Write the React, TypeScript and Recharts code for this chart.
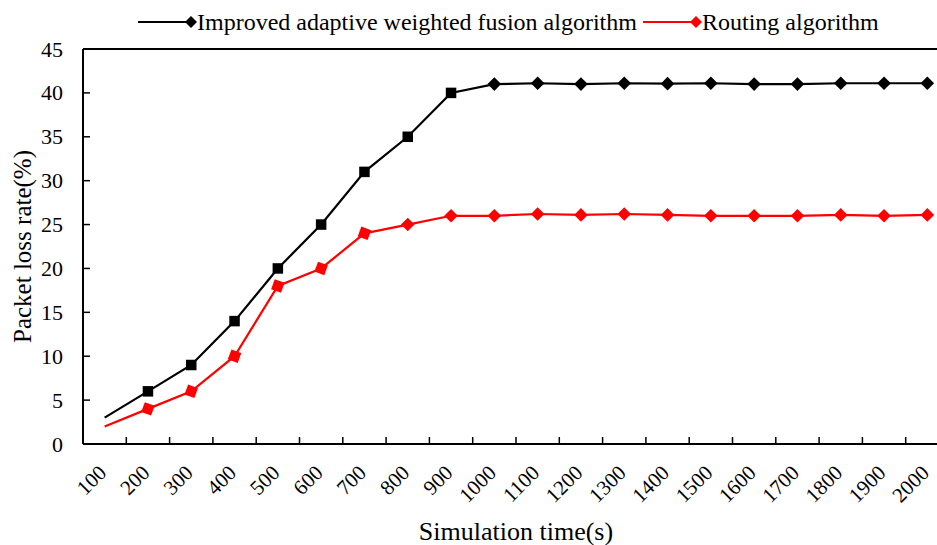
import React from 'react';
import { LineChart, Line, XAxis, YAxis, ReferenceLine } from 'recharts';

const times = ['100', '200', '300', '400', '500', '600', '700', '800', '900', '1000',
  '1100', '1200', '1300', '1400', '1500', '1600', '1700', '1800', '1900', '2000'];
const improved = [3, 6, 9, 14, 20, 25, 31, 35, 40, 41, 41.1, 41, 41.1, 41.05, 41.1, 41, 41, 41.1, 41.1, 41.1];
const routing = [2, 4, 6, 10, 18, 20, 24, 25, 26, 26, 26.2, 26.1, 26.2, 26.1, 26, 26, 26, 26.1, 26, 26.1];
const yTicks = [0, 5, 10, 15, 20, 25, 30, 35, 40, 45];

const data = times.map((t, i) => ({ t, improved: improved[i], routing: routing[i] }));

const FONT = "'Liberation Serif', 'Times New Roman', serif";
const CHART_W = 960;
const CHART_H = 545;
const MARGIN = { top: 49, right: 11, left: 0, bottom: 0 };
const Y_AXIS_W = 83;
const X_AXIS_H = 101;
const BAND = (CHART_W - MARGIN.left - MARGIN.right - Y_AXIS_W) / times.length;
const X_MARGIN = 30;
const Y_MARGIN = 20;

const YTick = (props: any) => {
  const { x, y, payload } = props;
  return (
    <g>
      <line x1={x + Y_MARGIN} x2={x + Y_MARGIN + 7} y1={y} y2={y} stroke="#000" strokeWidth={1.5} />
      <text x={x} y={y} dy={7.5} textAnchor="end" fontSize={22} fontFamily={FONT} fill="#000">
        {payload.value}
      </text>
    </g>
  );
};

const XTick = (props: any) => {
  const { x, y, payload, index } = props;
  const axisY = y - X_MARGIN;
  const tx = x + 3;
  return (
    <g>
      <line x1={x - BAND / 2} x2={x - BAND / 2} y1={axisY} y2={axisY - 7} stroke="#000" strokeWidth={1.5} />
      {index === times.length - 1 && (
        <line x1={x + BAND / 2} x2={x + BAND / 2} y1={axisY} y2={axisY - 7} stroke="#000" strokeWidth={1.5} />
      )}
      <text x={tx} y={y} textAnchor="end" fontSize={21} fontFamily={FONT} fill="#000"
        transform={`rotate(-45 ${tx} ${y})`}>
        {payload.value}
      </text>
    </g>
  );
};

// first point has no marker, then squares, then diamonds
const makeDot = (color: string, squareUntil: number, tilt: number) => (props: any) => {
  const { cx, cy, index } = props;
  if (index === 0 || cx == null || cy == null) return <g key={`dot-${color}-${index}`} />;
  if (index <= squareUntil) {
    const s = 10.5;
    return (
      <rect key={`dot-${color}-${index}`} x={cx - s / 2} y={cy - s / 2} width={s} height={s} fill={color}
        transform={`rotate(${tilt} ${cx} ${cy})`} />
    );
  }
  const r = 6.8;
  return (
    <polygon key={`dot-${color}-${index}`} fill={color}
      points={`${cx},${cy - r} ${cx + r},${cy} ${cx},${cy + r} ${cx - r},${cy}`} />
  );
};

const LegendIcon = ({ color }: { color: string }) => (
  <svg width={60} height={16} style={{ display: 'block' }}>
    <line x1={0} x2={50} y1={8} y2={8} stroke={color} strokeWidth={2} />
    <polygon fill={color} points="53,2 59,8 53,14 47,8" />
  </svg>
);

const LegendItem = ({ color, label, left }: { color: string; label: string; left: number }) => (
  <div style={{ position: 'absolute', left, top: 7, display: 'flex', alignItems: 'center', height: 30 }}>
    <LegendIcon color={color} />
    <span style={{ fontFamily: FONT, fontSize: 24, color: '#000', marginLeft: -1, whiteSpace: 'nowrap' }}>{label}</span>
  </div>
);

const App = () => {
  return (
    <div style={{ position: 'fixed', left: 0, top: 0, width: 937, height: 545, overflow: 'hidden', background: '#fff' }}>
      <LineChart width={CHART_W} height={CHART_H} data={data} margin={MARGIN}>
        <XAxis dataKey="t" type="category" interval={0} height={X_AXIS_H} tickSize={0} tickMargin={X_MARGIN}
          padding={{ left: BAND / 2, right: BAND / 2 }}
          tickLine={false} tick={<XTick />} axisLine={{ stroke: '#000', strokeWidth: 2 }}
          label={{ value: 'Simulation time(s)', position: 'insideBottom', offset: 5, fontSize: 26, fontFamily: FONT, fill: '#000' }} />
        <YAxis domain={[0, 45]} ticks={yTicks} width={Y_AXIS_W} tickSize={0} tickMargin={Y_MARGIN} tickLine={false}
          tick={<YTick />} axisLine={{ stroke: '#000', strokeWidth: 2 }} allowDataOverflow
          label={{ value: 'Packet loss rate(%)', angle: -90, position: 'center', dx: -19, fontSize: 25, fontFamily: FONT, fill: '#000' }} />
        <ReferenceLine y={45} stroke="#000" strokeWidth={2} />
        <Line type="linear" dataKey="improved" stroke="#000" strokeWidth={2.2} isAnimationActive={false}
          dot={makeDot('#000', 8, 0)} activeDot={false} />
        <Line type="linear" dataKey="routing" stroke="#FF0000" strokeWidth={2.2} isAnimationActive={false}
          dot={makeDot('#FF0000', 6, 20)} activeDot={false} />
      </LineChart>
      <LegendItem color="#000" label="Improved adaptive weighted fusion algorithm" left={138} />
      <LegendItem color="#FF0000" label="Routing algorithm" left={643} />
    </div>
  );
};

export default App;
